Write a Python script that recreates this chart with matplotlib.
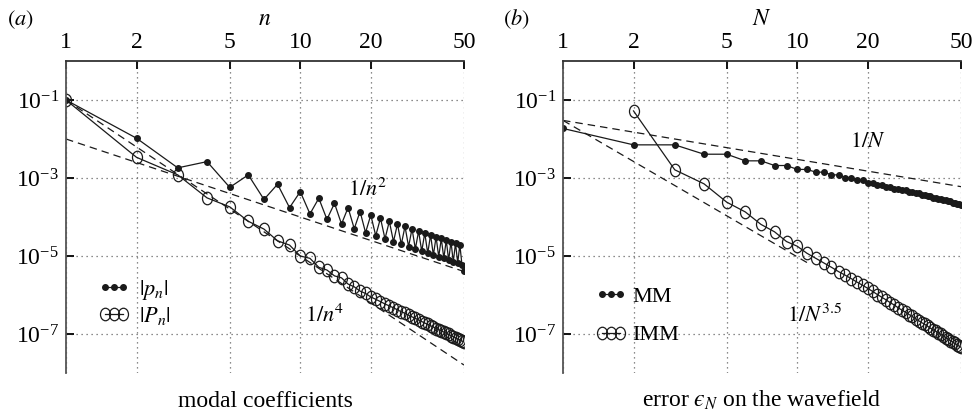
import numpy as np
import matplotlib
matplotlib.use("Agg")
import matplotlib.pyplot as plt
from matplotlib.path import Path
from matplotlib.ticker import FixedLocator, NullLocator, LogFormatterSciNotation

plt.rcParams['font.family'] = ['Liberation Serif', 'DejaVu Serif']
plt.rcParams['mathtext.fontset'] = 'stix'
plt.rcParams['font.size'] = 17

# ---------------- data (log10 of values) ----------------
n_vals = list(range(1, 51))
p_log = [-1.00, -1.98, -2.74, -2.58, -3.24, -2.92, -3.55, -3.16, -3.76, -3.35,
         -3.92, -3.52, -4.06, -3.65, -4.18, -3.76, -4.30, -3.86, -4.40, -3.95,
         -4.48, -4.03, -4.56, -4.11, -4.63, -4.18, -4.70, -4.24, -4.76, -4.30,
         -4.82, -4.36, -4.88, -4.41, -4.93, -4.46, -4.98, -4.51, -5.02, -4.55,
         -5.06, -4.59, -5.11, -4.63, -5.15, -4.67, -5.18, -4.71, -5.22, -5.38]
P_log = [-1.00, -2.47, -2.92, -3.51, -3.74, -4.11, -4.31, -4.61, -4.72, -5.00,
         -5.06, -5.29, -5.36, -5.51, -5.56, -5.72, -5.79, -5.90, -5.96, -6.05,
         -6.11, -6.17, -6.23, -6.28, -6.33, -6.38, -6.43, -6.47, -6.52, -6.56,
         -6.60, -6.64, -6.68, -6.72, -6.75, -6.79, -6.82, -6.86, -6.89, -6.92,
         -6.95, -6.98, -7.01, -7.04, -7.07, -7.10, -7.13, -7.15, -7.18, -7.20]

N_mm = list(range(1, 51))
mm_log = [-1.73, -2.15, -2.15, -2.39, -2.39, -2.56, -2.56, -2.68, -2.68, -2.78,
          -2.78, -2.85, -2.85, -2.92, -2.92, -2.99, -2.99, -3.06, -3.06, -3.12,
          -3.12, -3.17, -3.17, -3.22, -3.22, -3.27, -3.27, -3.31, -3.31, -3.35,
          -3.35, -3.39, -3.39, -3.43, -3.43, -3.47, -3.47, -3.51, -3.51, -3.54,
          -3.54, -3.57, -3.57, -3.60, -3.60, -3.63, -3.63, -3.66, -3.66, -3.69]
N_imm = list(range(2, 51))
imm_log = [-1.28, -2.79, -3.15, -3.62, -3.87, -4.19, -4.38, -4.63, -4.75,
           -4.93, -5.06, -5.18, -5.29, -5.40, -5.49, -5.58, -5.67, -5.75, -5.83,
           -5.91, -5.99, -6.06, -6.13, -6.20, -6.26, -6.33, -6.39, -6.44, -6.50,
           -6.55, -6.61, -6.66, -6.71, -6.75, -6.80, -6.85, -6.89, -6.93, -6.97,
           -7.01, -7.05, -7.09, -7.13, -7.17, -7.20, -7.24, -7.27, -7.31, -7.34]

# reference slopes (end points)
ref_a_x = [1, 50]
ref_a_n2 = [1e-2, 4e-6]
ref_a_n4 = [1e-1, 1.6e-8]
ref_b_x1 = [1, 50]
ref_b_N1 = [3e-2, 6e-4]
ref_b_x35 = [1, 11]
ref_b_N35 = [3e-2, 6.8e-6]

xticks = [1, 2, 5, 10, 20, 50]
yticks = [1e-1, 1e-3, 1e-5, 1e-7]

# ---------------- styling ----------------
circ = Path.unit_circle()
ell = Path(circ.vertices * np.array([0.8, 1.0]), circ.codes)
lc = '#1a1a1a'

fig = plt.figure(figsize=(9.78, 4.16), dpi=100)
W, H = 978, 416
axa = fig.add_axes([66 / W, 1 - 373 / H, 398 / W, 312 / H])
axb = fig.add_axes([563 / W, 1 - 373 / H, 398 / W, 312 / H])


def style(ax, xlabel):
    ax.set_xscale('log')
    ax.set_yscale('log')
    ax.set_xlim(1, 50)
    ax.set_ylim(1e-8, 1)
    ax.xaxis.set_major_locator(FixedLocator(xticks))
    ax.xaxis.set_minor_locator(NullLocator())
    ax.set_xticklabels([str(t) for t in xticks])
    ax.yaxis.set_major_locator(FixedLocator(yticks))
    ax.yaxis.set_minor_locator(NullLocator())
    ax.yaxis.set_major_formatter(LogFormatterSciNotation())
    ax.xaxis.tick_top()
    ax.xaxis.set_label_position('top')
    ax.tick_params(axis='both', direction='in', length=6, width=1.4, color='#111',
                   labelsize=17)
    ax.tick_params(axis='x', pad=6)
    ax.tick_params(axis='y', pad=5)
    for s in ['right', 'bottom']:
        ax.spines[s].set_visible(False)
    ax.spines['top'].set_color('#333')
    ax.spines['left'].set_color('#555')
    ax.spines['top'].set_linewidth(1.3)
    ax.spines['left'].set_linewidth(1.3)
    ax.grid(True, which='major', linestyle=(0, (1, 3)), color='#666', linewidth=0.9)
    ax.set_xlabel(xlabel, labelpad=5, fontsize=17)
    ax.set_axisbelow(True)


style(axa, r'$n$')
style(axb, r'$N$')

dash = (0, (6, 4))
# panel (a)
axa.plot(ref_a_x, ref_a_n2, linestyle=dash, color=lc, lw=0.9)
axa.plot(ref_a_x, ref_a_n4, linestyle=dash, color=lc, lw=0.9)
axa.plot(n_vals, 10 ** np.array(p_log), '-', color=lc, lw=0.9, marker='o',
         ms=4, mfc=lc, mec=lc, label=r'$|p_n|$')
axa.plot(n_vals, 10 ** np.array(P_log), '-', color=lc, lw=0.9, marker=ell,
         ms=9, mfc='none', mec=lc, mew=0.9, label=r'$|P_n|$')
axa.text(16.0, 10 ** -3.46, r'$1/n^2$', ha='left', va='baseline', fontsize=16)
axa.text(10.5, 10 ** -6.68, r'$1/n^4$', ha='left', va='baseline', fontsize=16)

# panel (b)
axb.plot(ref_b_x1, ref_b_N1, linestyle=dash, color=lc, lw=0.9)
axb.plot(ref_b_x35, ref_b_N35, linestyle=dash, color=lc, lw=0.9)
axb.plot(N_mm, 10 ** np.array(mm_log), '-', color=lc, lw=0.9, marker='o',
         ms=4, mfc=lc, mec=lc, label='MM')
axb.plot(N_imm, 10 ** np.array(imm_log), '-', color=lc, lw=0.9, marker=ell,
         ms=9, mfc='none', mec=lc, mew=0.9, label='IMM')
axb.text(16.8, 10 ** -2.20, r'$1/N$', ha='left', va='baseline', fontsize=16)
axb.text(9.06, 10 ** -6.68, r'$1/N^{3.5}$', ha='left', va='baseline', fontsize=16)

leg_a = axa.legend(loc='center left', bbox_to_anchor=(0.08, 0.226), frameon=False,
                   numpoints=3, handlelength=1.45, handletextpad=0.4,
                   labelspacing=0.15, borderpad=0, borderaxespad=0, fontsize=16)
leg_b = axb.legend(loc='center left', bbox_to_anchor=(0.08, 0.183), frameon=False,
                   numpoints=3, handlelength=1.45, handletextpad=0.25,
                   labelspacing=0.8, borderpad=0, borderaxespad=0, fontsize=16)

fig.text(7 / W, 1 - 25 / H, r'$(a)$', ha='left', va='baseline', fontsize=16)
fig.text(503 / W, 1 - 25 / H, r'$(b)$', ha='left', va='baseline', fontsize=16)
fig.text(265 / W, 1 - 407 / H, 'modal coefficients', ha='center', va='baseline', fontsize=17)
fig.text(762 / W, 1 - 407 / H, 'error $\u03f5_N$ on the wavefield', ha='center',
         va='baseline', fontsize=17)

fig.savefig('out.png', dpi=100)
